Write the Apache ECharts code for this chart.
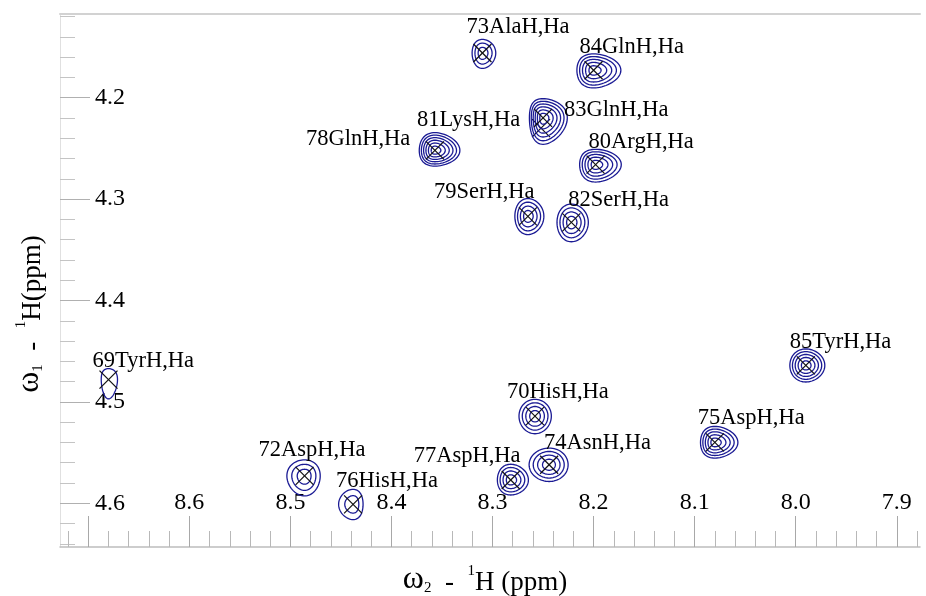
<!DOCTYPE html>
<html>
<head>
<meta charset="utf-8">
<script src="https://cdn.jsdelivr.net/npm/echarts@6/dist/echarts.min.js"></script>
<style>
html,body{margin:0;padding:0;background:#fff;}
#chart{width:926px;height:596px;}
</style>
</head>
<body>
<div id="chart"></div>
<script>
// ---- data (ppm) ----
var peakLabels = ['69TyrH,Ha','70HisH,Ha','72AspH,Ha','73AlaH,Ha','74AsnH,Ha','75AspH,Ha','76HisH,Ha','77AspH,Ha','78GlnH,Ha','79SerH,Ha','80ArgH,Ha','81LysH,Ha','82SerH,Ha','83GlnH,Ha','84GlnH,Ha','85TyrH,Ha'];
var peakW2 = [8.680, 8.258, 8.486, 8.310, 8.244, 8.080, 8.438, 8.282, 8.357, 8.265, 8.198, 8.252, 8.222, 8.250, 8.200, 7.990];
var peakW1 = [4.478, 4.514, 4.573, 4.156, 4.562, 4.540, 4.601, 4.577, 4.252, 4.317, 4.266, 4.230, 4.323, 4.220, 4.173, 4.464];
var peakLevels = [1, 4, 3, 3, 4, 5, 2, 4, 6, 4, 5, 0, 4, 6, 5, 5];
// outer contour extents (ppm) toward screen left / right / top / bottom
var extLeft   = [0.0072,0.0158,0.0175,0.0102,0.0198,0.0142,0.0143,0.0132,0.0155,0.0129,0.0158,0,0.0142,0.0135,0.0165,0.0158];
var extRight  = [0.0089,0.0162,0.0155,0.0132,0.0188,0.0228,0.0099,0.0175,0.0247,0.0158,0.0254,0,0.0168,0.0240,0.0270,0.0188];
var extTop    = [0.0108,0.0165,0.0158,0.0135,0.0165,0.0158,0.0148,0.0155,0.0175,0.0175,0.0151,0,0.0180,0.0190,0.0162,0.0162];
var extBottom = [0.0190,0.0174,0.0197,0.0151,0.0165,0.0154,0.0151,0.0148,0.0155,0.0180,0.0172,0,0.0191,0.0260,0.0174,0.0164];

// axis ticks
var xMajorTicks = [8.7, 8.6, 8.5, 8.4, 8.3, 8.2, 8.1, 8.0, 7.9];
var xTickLabels = [8.6, 8.5, 8.4, 8.3, 8.2, 8.1, 8.0, 7.9];
var yMajorTicks = [4.2, 4.3, 4.4, 4.5, 4.6];
var yTickLabels = [4.2, 4.3, 4.4, 4.5, 4.6];
var xMinorTicks = [];
for (var k = 394; k <= 436; k++) { if (k % 5 !== 0) xMinorTicks.push(+(k * 0.02).toFixed(2)); }
var yMinorTicks = [];
for (var k2 = 206; k2 <= 232; k2++) { if (k2 % 5 !== 0) yMinorTicks.push(+(k2 * 0.02).toFixed(2)); }

// label placement (px offsets from peak centre) - styling
var labelOffsets = [[-16,-18],[-28,-24],[-46,-26],[-16,-26],[-5,-22],[-17,-24],[-17,-23],[-97,-24],[-129,-11],[-94,-24],[-7,-22],[-124,-8],[-3,-22],[21,-8],[-14,-23],[-16,-23]];

var SERIF = '"Liberation Serif","Times New Roman",serif';
var CONTOUR = '#1a1a94';
var X_MIN = 7.877, X_MAX = 8.728, Y_MIN = 4.1175, Y_MAX = 4.6431;

var chart = echarts.init(document.getElementById('chart'), null, {renderer: 'canvas'});

var data = peakW2.map(function (x, i) { return [x, peakW1[i]]; });

function renderItem(params, api) {
  var i = params.dataIndex;
  var c = api.coord([peakW2[i], peakW1[i]]);
  var sx = Math.abs(api.size([1, 0])[0]);
  var sy = Math.abs(api.size([0, 1])[1]);
  var L = extLeft[i] * sx, R = extRight[i] * sx, T = extTop[i] * sy, B = extBottom[i] * sy;
  var children = [];
  var n = peakLevels[i];
  for (var lv = 1; lv <= n; lv++) {
    var f = Math.pow(lv / n, 0.8);
    var pts = [];
    var a = (R + L) / 2, b = (R - L) / 2, p = (B + T) / 2, q = (B - T) / 2;
    for (var s = 0; s < 72; s++) {
      var t = s / 72 * Math.PI * 2;
      var ct = Math.cos(t), st = Math.sin(t);
      pts.push([c[0] + f * ct * (a + b * ct), c[1] + f * st * (p + q * st)]);
    }
    children.push({type: 'polygon', shape: {points: pts},
      style: {fill: null, stroke: CONTOUR, lineWidth: 1.3}});
  }
  var h = 9;
  children.push({type: 'line', shape: {x1: c[0]-h, y1: c[1]-h, x2: c[0]+h, y2: c[1]+h}, style: {stroke: '#111', lineWidth: 1.2}});
  children.push({type: 'line', shape: {x1: c[0]-h, y1: c[1]+h, x2: c[0]+h, y2: c[1]-h}, style: {stroke: '#111', lineWidth: 1.2}});
  var off = labelOffsets[i];
  children.push({type: 'text', x: c[0] + off[0], y: c[1] + off[1],
    style: {text: peakLabels[i], fill: '#000', font: '22.5px ' + SERIF, align: 'left', verticalAlign: 'middle'}});
  return {type: 'group', children: children};
}

var fmt = function (v) { return (+v).toFixed(1); };

var titleRich = {
  w: {fontFamily: SERIF, fontSize: 32, fill: '#000', lineHeight: 32, verticalAlign: 'bottom'},
  sub: {fontFamily: SERIF, fontSize: 15, fill: '#000', lineHeight: 32, verticalAlign: 'bottom'},
  sup: {fontFamily: SERIF, fontSize: 15, fill: '#000', lineHeight: 32, verticalAlign: 'top'},
  n: {fontFamily: SERIF, fontSize: 27, fill: '#000', lineHeight: 32, verticalAlign: 'bottom'}
};

var option = {
  animation: false,
  backgroundColor: '#fff',
  grid: {left: 60, right: 6, top: 14, bottom: 49, containLabel: false},
  xAxis: [
    {type: 'value', inverse: true, min: X_MIN, max: X_MAX, position: 'bottom',
      axisLine: {show: true, lineStyle: {color: '#bdbdbd', width: 1.5}},
      axisTick: {show: true, inside: true, length: 31, customValues: xMajorTicks, lineStyle: {color: '#a8a8a8', width: 1}},
      axisLabel: {show: true, inside: true, margin: 32, customValues: xTickLabels, formatter: fmt,
        fontFamily: SERIF, fontSize: 24, color: '#000'},
      splitLine: {show: false}},
    {type: 'value', inverse: true, min: X_MIN, max: X_MAX, position: 'bottom',
      axisLine: {show: false},
      axisTick: {show: true, inside: true, length: 16, customValues: xMinorTicks, lineStyle: {color: '#b8b8b8', width: 1}},
      axisLabel: {show: false}, splitLine: {show: false}},
    {type: 'value', inverse: true, min: X_MIN, max: X_MAX, position: 'top',
      axisLine: {show: true, lineStyle: {color: '#d2d2d2', width: 2}},
      axisTick: {show: false}, axisLabel: {show: false}, splitLine: {show: false}}
  ],
  yAxis: [
    {type: 'value', inverse: true, min: Y_MIN, max: Y_MAX, position: 'left',
      axisLine: {show: true, lineStyle: {color: '#e0e0e0', width: 1}},
      axisTick: {show: true, inside: true, length: 30, customValues: yMajorTicks, lineStyle: {color: '#b0b0b0', width: 1}},
      axisLabel: {show: true, inside: true, margin: 35, customValues: yTickLabels, formatter: fmt,
        fontFamily: SERIF, fontSize: 24, color: '#000'},
      splitLine: {show: false}},
    {type: 'value', inverse: true, min: Y_MIN, max: Y_MAX, position: 'left',
      axisLine: {show: false},
      axisTick: {show: true, inside: true, length: 15, customValues: yMinorTicks, lineStyle: {color: '#c4c4c4', width: 1}},
      axisLabel: {show: false}, splitLine: {show: false}}
  ],
  graphic: [
    {type: 'text', x: 485, y: 580, style: {
      text: '{w|ω}{sub|2}{n|  -  }{sup|1}{n|H (ppm)}', align: 'center', verticalAlign: 'middle', rich: titleRich}},
    {type: 'text', x: 30, y: 314, rotation: Math.PI / 2, style: {
      text: '{w|ω}{sub|1}{n|  -  }{sup|1}{n|H(ppm)}', align: 'center', verticalAlign: 'middle', rich: titleRich}}
  ],
  series: [{
    type: 'custom', xAxisIndex: 0, yAxisIndex: 0, renderItem: renderItem, data: data, clip: false,
    encode: {x: 0, y: 1}
  }]
};
chart.setOption(option);
</script>
</body>
</html>
